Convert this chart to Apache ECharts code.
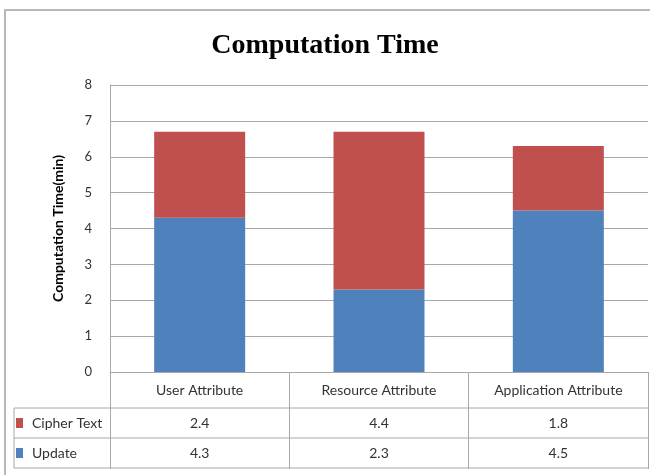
<!DOCTYPE html>
<html>
<head>
<meta charset="utf-8">
<script src="https://cdn.jsdelivr.net/npm/echarts@6/dist/echarts.min.js"></script>
<style>
  html, body { margin: 0; padding: 0; background: #fff; }
  #chart { width: 650px; height: 475px; }
</style>
</head>
<body>
<div id="chart"></div>
<script>
// Chart data
const categories = ['User Attribute', 'Resource Attribute', 'Application Attribute'];
const updateTimes = [4.3, 2.3, 4.5];
const cipherTextTimes = [2.4, 4.4, 1.8];
const seriesNames = ['Update', 'Cipher Text'];

const BLUE = '#4F81BD';
const RED = '#C0504D';
const LINE = '#a8a8a8';
const FONT = 'Lato, "Noto Sans", sans-serif';
const TABLE_FONT_SIZE = 14;

// data-table row heights below the category axis
const CAT_ROW = 36, VAL_ROW = 30;

const chart = echarts.init(document.getElementById('chart'), null, { renderer: 'canvas' });

const option = {
  backgroundColor: '#fff',
  animation: false,
  title: {
    text: 'Computation Time',
    left: 'center',
    top: 27,
    textStyle: { fontFamily: '"Liberation Serif", "Times New Roman", serif', fontWeight: 'bold', fontSize: 28, color: '#000' }
  },
  legend: { show: false },
  grid: { left: 110, right: 2, top: 85, bottom: 103, containLabel: false },
  xAxis: {
    type: 'category',
    data: categories,
    axisLine: { show: true, lineStyle: { color: LINE, width: 1 } },
    axisTick: { show: true, length: CAT_ROW + 2 * VAL_ROW + 1, lineStyle: { color: LINE, width: 1 } },
    axisLabel: {
      interval: 0,
      margin: 0,
      formatter: function (value, idx) {
        return '{c|' + value + '}\n{v|' + cipherTextTimes[idx] + '}\n{v|' + updateTimes[idx] + '}';
      },
      rich: {
        c: { fontFamily: FONT, fontSize: TABLE_FONT_SIZE, color: '#333', lineHeight: CAT_ROW },
        v: { fontFamily: FONT, fontSize: TABLE_FONT_SIZE, color: '#333', lineHeight: VAL_ROW }
      }
    }
  },
  yAxis: {
    type: 'value',
    min: 0,
    max: 8,
    interval: 1,
    name: 'Computation Time(min)',
    nameLocation: 'middle',
    nameRotate: 90,
    nameGap: 45,
    nameTextStyle: { fontFamily: FONT, fontWeight: 'bold', fontSize: 14, color: '#000' },
    axisLine: { show: true, lineStyle: { color: LINE, width: 1 } },
    axisTick: { show: false },
    axisLabel: { margin: 18, fontFamily: FONT, fontSize: 13, color: '#333' },
    splitLine: { show: true, lineStyle: { color: LINE, width: 1 } }
  },
  series: [
    {
      name: seriesNames[0],
      type: 'bar',
      stack: 'time',
      data: updateTimes,
      barWidth: 91,
      itemStyle: { color: BLUE }
    },
    {
      name: seriesNames[1],
      type: 'bar',
      stack: 'time',
      data: cipherTextTimes,
      barWidth: 91,
      itemStyle: { color: RED }
    }
  ]
};

chart.setOption(option);

// Table borders, row headers with colour keys, and the outer frame
const axisY = chart.convertToPixel({ yAxisIndex: 0 }, 0);
const rightX = chart.getWidth() - 2;
const tableLeft = 14;
const rowLines = [CAT_ROW, CAT_ROW + VAL_ROW, CAT_ROW + 2 * VAL_ROW].map(d => axisY + d);
const graphics = rowLines.map(y => ({
  type: 'line',
  shape: { x1: tableLeft, y1: y, x2: rightX, y2: y },
  style: { stroke: LINE, lineWidth: 1 },
  silent: true
}));
graphics.push({
  type: 'line',
  shape: { x1: tableLeft, y1: rowLines[0], x2: tableLeft, y2: rowLines[2] },
  style: { stroke: LINE, lineWidth: 1 },
  silent: true
});

// rows: Cipher Text first, then Update
const tableRows = [
  { name: seriesNames[1], color: RED },
  { name: seriesNames[0], color: BLUE }
];
tableRows.forEach((row, i) => {
  const cy = rowLines[i] + VAL_ROW / 2;
  graphics.push({
    type: 'rect',
    shape: { x: 16, y: cy - 5, width: 7, height: 10 },
    style: { fill: row.color },
    silent: true
  });
  graphics.push({
    type: 'text',
    x: 32,
    y: cy,
    style: { text: row.name, fontFamily: FONT, fontSize: TABLE_FONT_SIZE, fill: '#333', verticalAlign: 'middle', align: 'left' },
    silent: true
  });
});

graphics.push({
  type: 'rect',
  shape: { x: 5, y: 10, width: 650, height: 470 },
  style: { fill: null, stroke: '#b8b8b8', lineWidth: 2 },
  silent: true,
  z: -1
});
chart.setOption({ graphic: graphics });
</script>
</body>
</html>
